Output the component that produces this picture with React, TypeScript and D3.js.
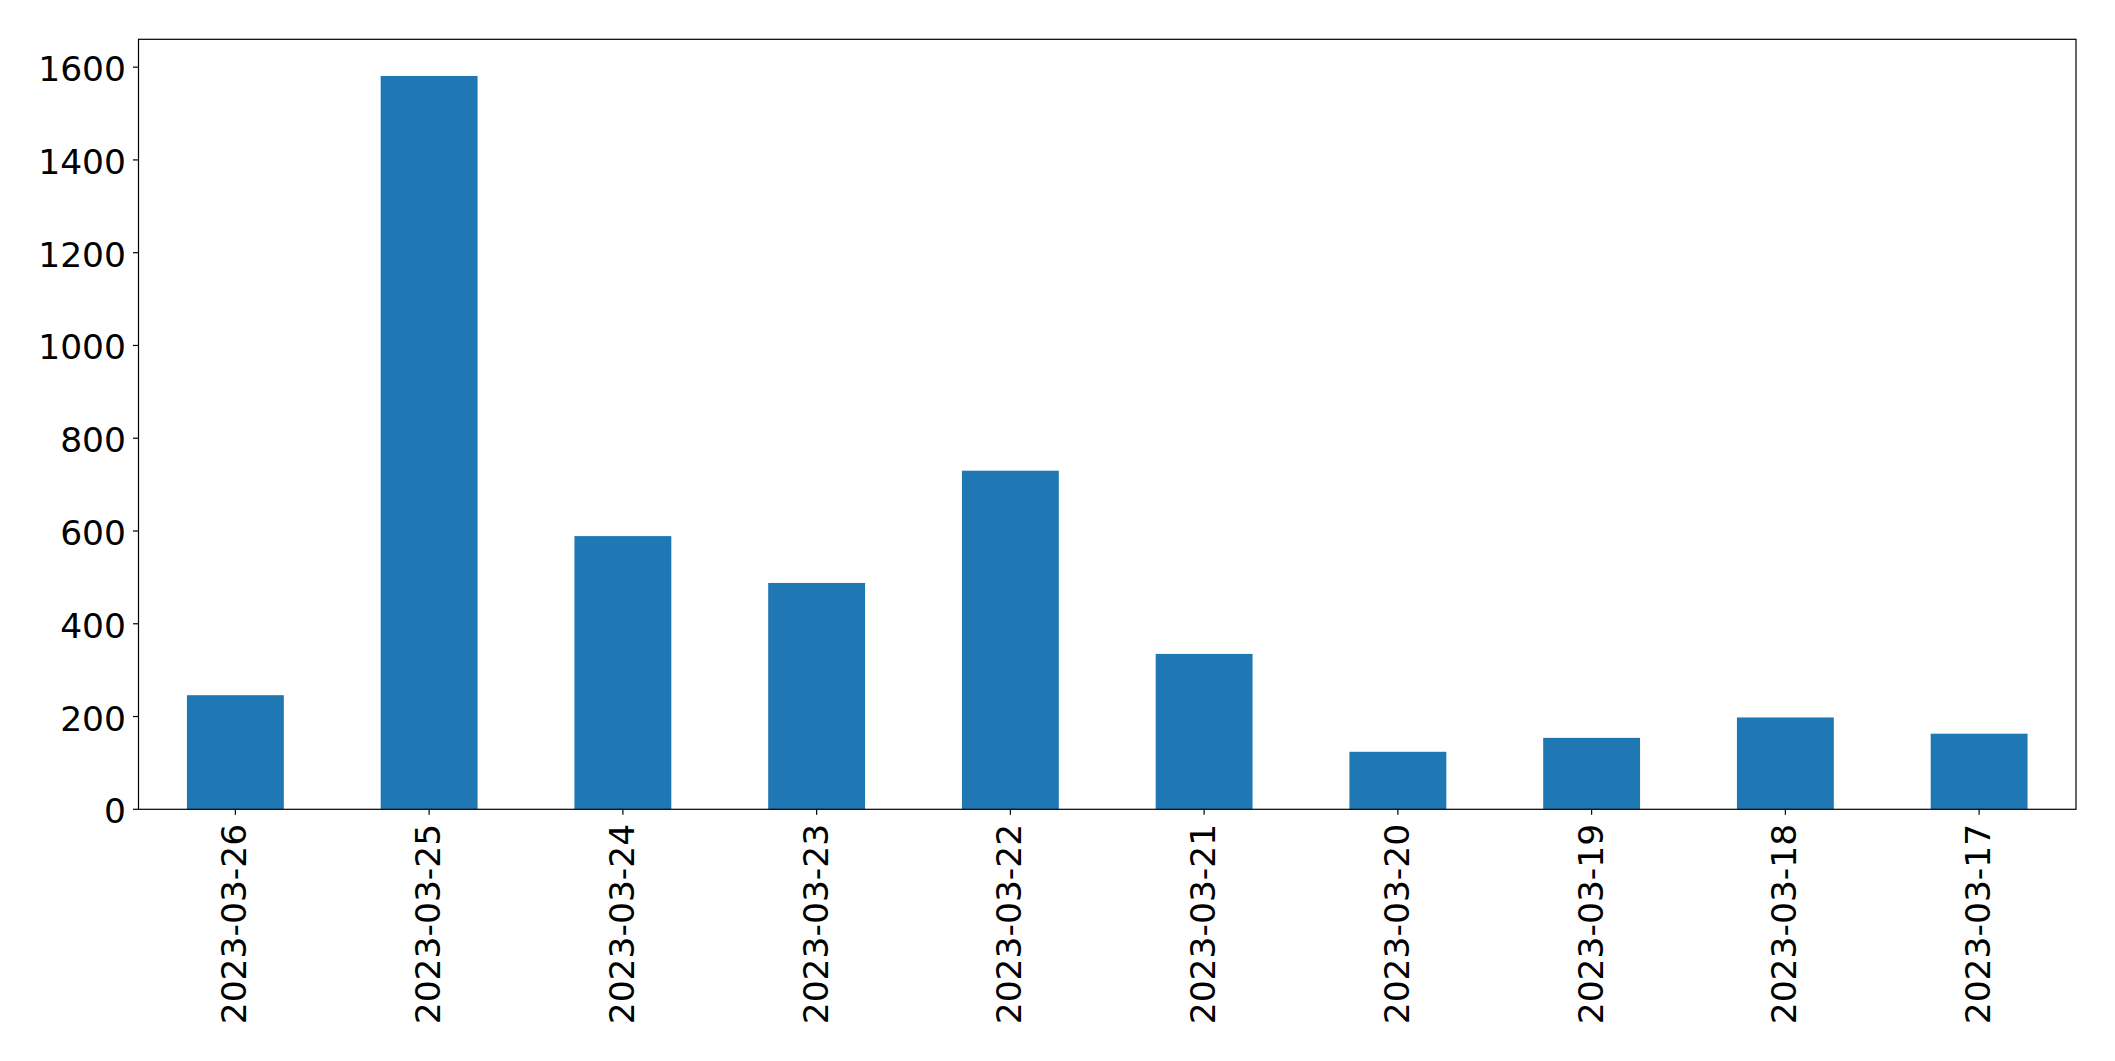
import React from "react";
import * as d3 from "d3";

const categories: string[] = [
  "2023-03-26",
  "2023-03-25",
  "2023-03-24",
  "2023-03-23",
  "2023-03-22",
  "2023-03-21",
  "2023-03-20",
  "2023-03-19",
  "2023-03-18",
  "2023-03-17",
];
const values: number[] = [246, 1581, 589, 488, 730, 335, 124, 154, 198, 163];
const yTicks: number[] = [0, 200, 400, 600, 800, 1000, 1200, 1400, 1600];

const W = 2115;
const H = 1061;
const M = { left: 138.5, top: 39.3, right: 2076, bottom: 809.3 };
const FONT = "'DejaVu Sans', sans-serif";
const FS = 34.5;
const TICK = 5.5;

export default function App() {
  const maxV = d3.max(values) as number;
  const y = d3.scaleLinear().domain([0, maxV * 1.05]).range([M.bottom, M.top]);
  const x = d3
    .scaleBand<string>()
    .domain(categories)
    .range([M.left, M.right])
    .paddingInner(0.5)
    .paddingOuter(0.25);

  return (
    <svg
      width={W}
      height={H}
      style={{ position: "absolute", left: 0, top: 0, background: "#fff" }}
      fontFamily={FONT}
    >
      <rect x={0} y={0} width={W} height={H} fill="#fff" />
      {categories.map((c, i) => (
        <rect
          key={c}
          x={x(c)}
          y={y(values[i])}
          width={x.bandwidth()}
          height={y(0) - y(values[i])}
          fill="#1f77b4"
        />
      ))}
      {/* y axis ticks */}
      {yTicks.map((t) => (
        <g key={t}>
          <line x1={M.left - TICK} x2={M.left} y1={y(t)} y2={y(t)} stroke="#000" strokeWidth={1.2} />
          <text
            x={M.left - TICK - 7}
            y={y(t) + 2}
            textAnchor="end"
            dominantBaseline="central"
            fontSize={FS}
            fill="#000"
          >
            {t}
          </text>
        </g>
      ))}
      {/* x axis ticks */}
      {categories.map((c) => {
        const cx = (x(c) as number) + x.bandwidth() / 2;
        return (
          <g key={c}>
            <line x1={cx} x2={cx} y1={M.bottom} y2={M.bottom + TICK} stroke="#000" strokeWidth={1.2} />
            <text
              transform={`translate(${cx - 1},${M.bottom + TICK + 9}) rotate(-90)`}
              textAnchor="end"
              dominantBaseline="central"
              fontSize={FS}
              fill="#000"
            >
              {c}
            </text>
          </g>
        );
      })}
      {/* spines */}
      <rect
        x={M.left}
        y={M.top}
        width={M.right - M.left}
        height={M.bottom - M.top}
        fill="none"
        stroke="#000"
        strokeWidth={1.2}
      />
    </svg>
  );
}
